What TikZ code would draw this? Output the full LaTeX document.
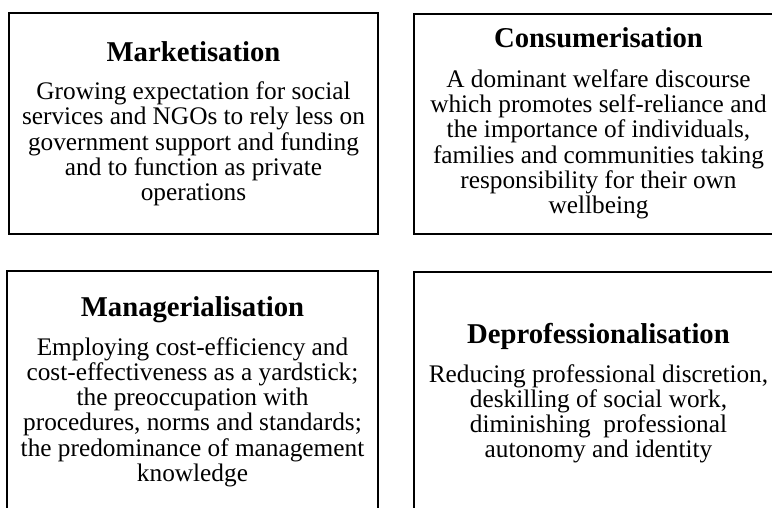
\documentclass[tikz,border=0pt]{standalone}
\usepackage{fontspec}
\setmainfont{Liberation Serif}
\begin{document}
\begin{tikzpicture}[x=1pt,y=-1pt,
  box/.style={draw=black,line width=2pt,rectangle,inner sep=0pt,minimum width=369pt},
  titletext/.style={font=\fontsize{28.7}{30}\selectfont\bfseries,anchor=base,inner sep=0pt},
  bodytext/.style={font=\fontsize{25.3}{25.2}\selectfont,anchor=base,inner sep=0pt}]
\useasboundingbox (0,0) rectangle (772,507);
\clip (0,0) rectangle (772,507);
% boxes
\node[box,minimum height=221pt] (b1) at (193.5,123.5) {};
\node[box,minimum height=220pt] (b2) at (598.5,124) {};
\node[box,minimum width=371pt,minimum height=241pt] (b3) at (192.5,391.5) {};
\node[box,minimum height=240pt] (b4) at (598.5,392) {};
% box 1
\node[titletext] (t1) at (193.5,61) {Marketisation};
\node[bodytext] (d1) at (193.5,99.5) {\begin{tabular}[t]{@{}c@{}}Growing expectation for social\\ services and NGOs to rely less on\\ government support and funding\\ and to function as private\\ operations\end{tabular}};
% box 2
\node[titletext] (t2) at (598.5,47) {Consumerisation};
\node[bodytext] (d2) at (598.5,87) {\begin{tabular}[t]{@{}c@{}}A dominant welfare discourse\\ which promotes self-reliance and\\ the importance of individuals,\\ families and communities taking\\ responsibility for their own\\ wellbeing\end{tabular}};
% box 3
\node[titletext] (t3) at (192.5,316) {Managerialisation};
\node[bodytext] (d3) at (192.5,355) {\begin{tabular}[t]{@{}c@{}}Employing cost-efficiency and\\ cost-effectiveness as a yardstick;\\ the preoccupation with\\ procedures, norms and standards;\\ the predominance of management\\ knowledge\end{tabular}};
% box 4
\node[titletext] (t4) at (598.5,343) {Deprofessionalisation};
\node[bodytext] (d4) at (598.5,382) {\begin{tabular}[t]{@{}c@{}}Reducing professional discretion,\\ deskilling of social work,\\ diminishing\ \ professional\\ autonomy and identity\end{tabular}};
\end{tikzpicture}
\end{document}
